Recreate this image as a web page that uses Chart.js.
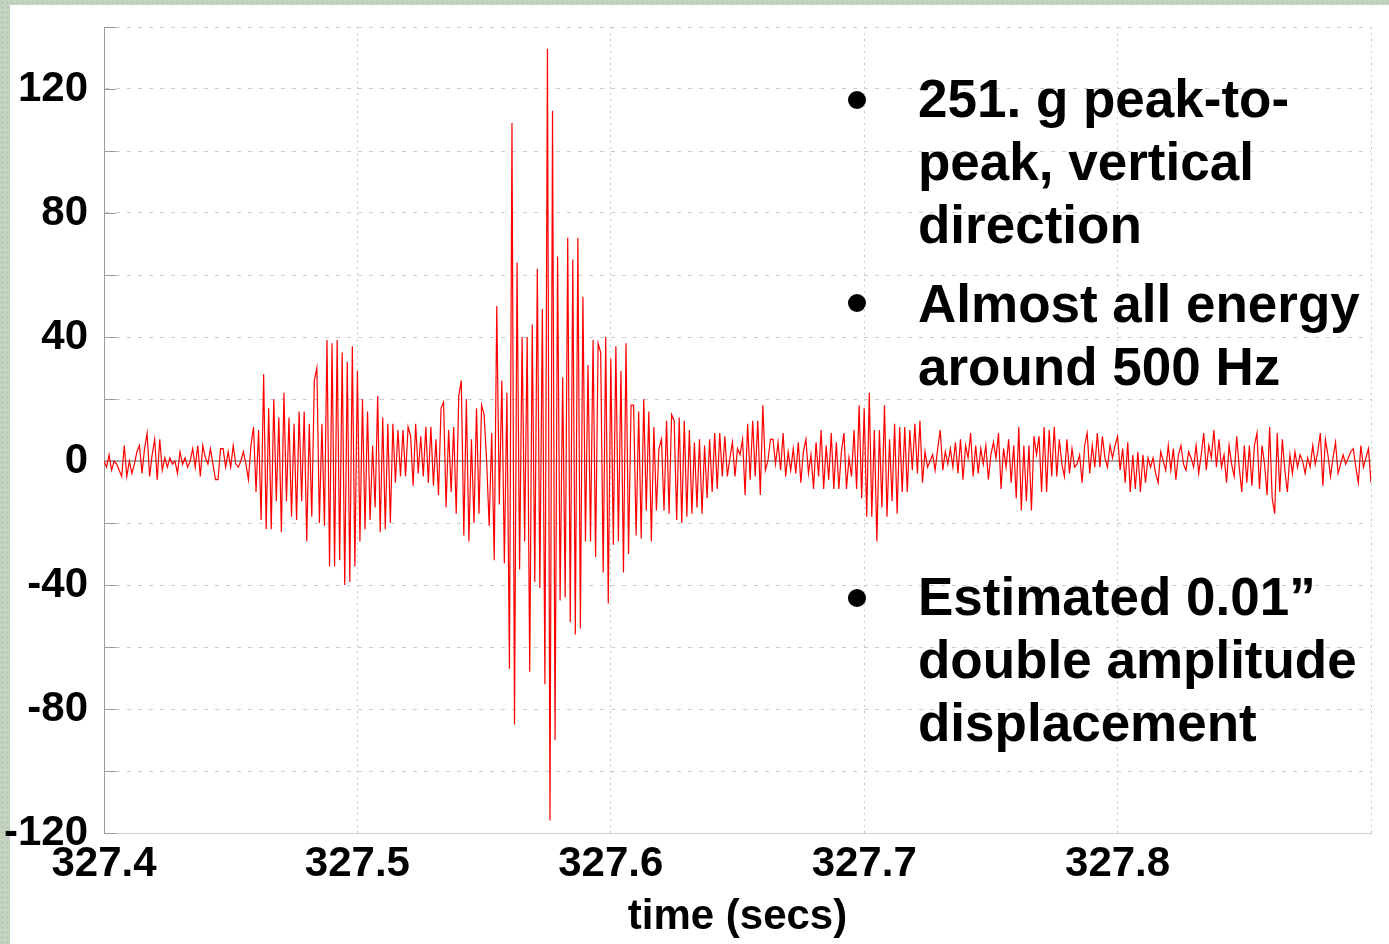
<!DOCTYPE html>
<html>
<head>
<meta charset="utf-8">
<script src="https://cdn.jsdelivr.net/npm/chart.js@4.4.0/dist/chart.umd.min.js"></script>
<style>
  html, body { margin: 0; padding: 0; background: #fff; }
  body { width: 1389px; height: 944px; position: relative; overflow: hidden; font-family: "Liberation Sans", Arial, sans-serif; }
  .strip { position: absolute; background-color: #c4d4bf; background-image: radial-gradient(#a9bea5 0.8px, transparent 1.1px); background-size: 5px 5px; }
  #stripLeft { left: 0; top: 0; width: 10px; height: 944px; }
  #stripTop { left: 0; top: 0; width: 1389px; height: 5px; }
  #chart { position: absolute; left: 0; top: 0; }
  .note { position: absolute; left: 918px; font-weight: bold; font-size: 53px; line-height: 63px; color: #000; white-space: nowrap; }
  .bullet { position: absolute; left: 848px; width: 18px; height: 18px; border-radius: 50%; background: #000; }
</style>
</head>
<body>
<div class="strip" id="stripLeft"></div>
<div class="strip" id="stripTop"></div>
<canvas id="chart" width="1389" height="944"></canvas>
<div id="notes"></div>
<script>
// acceleration (g), one sample per millisecond starting at 327.400 s
const t0 = 327.4;
const dt = 0.001;

const quietStart = [0,-2,2,-3,0,-1,-3,-5,5,-5,0,-4,-1,3,5,-4,4,9,-5,2,7,-6,7,-3,1,-2,1,-1,0,-4,
  3,-1,1,-2,0,4,-2,5,-5,5,1,-1,4,-1,-6,-6,4,4,-2,3,-2,5,-1,-2,0,3,-1,-6,5,11,-10];
const firstBurst = [10,-19,28,-22,17,-22,20,-13,14,-23,22,-13,14,-18,12,-19,16,-13,16,-26,
  12,-18,26,30,-20,12,-21,39,-34,38,-34,39,-32,35,-40,32,-39,37,-34,29,-26,20,-22,16,-19,5,
  -15,21,-23,14,-22,12,-20,12,-7,10];
const preMain = [-5,10,-5,11,8,-8,12,-4,8,-5,11,-7,11,-8,7,-11,17,19,-15,10,-10,11,-17,21,26,
  -24,20,-26,7,-20,17,-17,18,15,0,-21,9,-32];
const mainBurst = [50,-14,26,-33,22,-67,109,-85,64,-35,40,-26,40,-68,44,-39,62,-41,49,-72,
  133,-116,113,-90,66,-45,27,-44,72,-52,65,-56,72,-54,53,-26,31,-26,39,-31,38,35,-36,40,-46,33,-27,37];
const decay = [-26,29,-36,38,-30,18,18,-24,16,-25,20,-16,16,-26,11,-16,4,7,-16,13,-17,15,13,-19,
  14,-20,13,-18,10,-17,6,-15,7,-17,5,-12,7,-10,9,-9,9,-5,8,-5,1,6,-5,4,2,7,-11,12,-6,13,-5,13,-11];
const midNoise = [18,-3,0,7,7,-1,6,-3,9,-5,3,-3,4,-4,6,-7,3,7,-4,2,-9,6,-5,10,-9,5,-6,9,-9,6,
  -9,3,9,-9,1,-5,10,-9,18,-12,17,-18,22,-18,10,-26,10,-15,18,-18,7,-13,12,-17,11,-10,11,-10,10,-3,
  12,-4,13,-7,3,-2,0,2,-3,4,10,-3,3,-1,4,-2,6,-4,7,-6,5,1,9,-5,5,-4,4,-1,5,-6,2,6,1];
const tailNoise = [9,-9,4,-2,7,-7,5,-12,11,-16,5,-13,5,-16,8,2,8,-10,11,-10,10,-5,
  11,-5,7,-1,-5,7,-4,4,-2,-1,2,-7,5,9,-4,5,-2,9,-2,8,1,-2,5,1,5,8,-3,4,-7,6,-10,2,-9,
  3,-10,2,-7,1,-2,1,-4,-7,3,0,-3,5,-3,4,-6,2,5,-1,-3,3,1,-2,5,-4,2,9,-3,5,1,10,-2,7,-2,2,
  -7,5,-1,-5,8,-2,-10,5,-7,5,-8,5,9,-9,5,-1,-11,11,-12,-17,9,-10,7,-3,
  -10,2,-4,3,-2,2,0,-4,1,-2,5,-1,3,9,-8,7,2,-5,1,6,-4,-1,2,-1,1,3,4,-2,-7,5,-2,1,4,-7];

const xTickValues = [327.4, 327.5, 327.6, 327.7, 327.8, 327.9];
const xTickLabels = ["327.4", "327.5", "327.6", "327.7", "327.8", ""];
const yTickValues = [-120,-100,-80,-60,-40,-20,0,20,40,60,80,100,120,140];
const yTickLabels = ["-120","","-80","","-40","","0","","40","","80","","120",""];

const notes = [
  ["251. g peak-to-", "peak, vertical", "direction"],
  ["Almost all energy", "around 500 Hz"],
  ["Estimated 0.01\u201d", "double amplitude", "displacement"]
];

// build the series
const signal = [].concat(quietStart, firstBurst, preMain, mainBurst, decay, midNoise, tailNoise);
const points = signal.map((v, i) => ({ x: t0 + i * dt, y: v }));

// text blocks on the right
const noteTops = [67, 272, 565];
const bulletTops = [91, 294, 589];
const holder = document.getElementById("notes");
notes.forEach((lines, k) => {
  const b = document.createElement("div");
  b.className = "bullet";
  b.style.top = bulletTops[k] + "px";
  holder.appendChild(b);
  const d = document.createElement("div");
  d.className = "note";
  d.style.top = noteTops[k] + "px";
  d.innerHTML = lines.join("<br>");
  holder.appendChild(d);
});

const tickFont = { family: "'Liberation Sans', Arial, sans-serif", size: 42, weight: "bold" };

// short inward tick marks on the left axis
const innerTicks = {
  id: "innerTicks",
  beforeDatasetsDraw(chart) {
    const { ctx, chartArea, scales } = chart;
    ctx.save();
    ctx.strokeStyle = "#9a9a9a";
    ctx.lineWidth = 1;
    scales.y.ticks.forEach((t) => {
      const py = Math.round(scales.y.getPixelForValue(t.value)) + 0.5;
      ctx.beginPath();
      ctx.moveTo(chartArea.left, py);
      ctx.lineTo(chartArea.left + 12, py);
      ctx.stroke();
    });
    ctx.restore();
  }
};

new Chart(document.getElementById("chart"), {
  type: "line",
  data: {
    datasets: [
      { data: points, borderColor: "#ff0000", borderWidth: 1.2, pointRadius: 0, tension: 0, order: 0 },
      { data: [{ x: 327.4, y: 0 }, { x: 327.9, y: 0 }], borderColor: "#8c8c8c", borderWidth: 1.5, pointRadius: 0, order: 1 }
    ]
  },
  options: {
    responsive: false,
    animation: false,
    events: [],
    layout: { padding: { top: 27, right: 18, left: 0, bottom: 0 } },
    plugins: { legend: { display: false }, tooltip: { enabled: false } },
    scales: {
      x: {
        type: "linear",
        min: 327.4,
        max: 327.9,
        afterFit: (s) => { s.height = 111; s.paddingLeft = 0; s.paddingRight = 0; },
        afterBuildTicks: (s) => { s.ticks = xTickValues.map((v) => ({ value: v })); },
        ticks: {
          callback: (v, i) => xTickLabels[i],
          font: tickFont,
          color: "#000",
          padding: 6,
          maxRotation: 0,
          autoSkip: false
        },
        grid: { color: "#c8c8c8", drawTicks: false },
        border: { color: "#cfcfcf", dash: [2, 4] },
        title: { display: true, text: "time (secs)", font: tickFont, color: "#000", padding: { top: 0, bottom: 1 } }
      },
      y: {
        min: -120,
        max: 140,
        afterFit: (s) => { s.width = 104; s.paddingTop = 0; s.paddingBottom = 0; },
        afterBuildTicks: (s) => { s.ticks = yTickValues.map((v) => ({ value: v })); },
        ticks: {
          callback: (v, i) => yTickLabels[i],
          font: tickFont,
          color: "#000",
          padding: 16,
          autoSkip: false
        },
        grid: { color: "#cccccc", drawTicks: false },
        border: { color: "#9a9a9a", dash: [4, 7] }
      }
    }
  },
  plugins: [innerTicks]
});
</script>
</body>
</html>
